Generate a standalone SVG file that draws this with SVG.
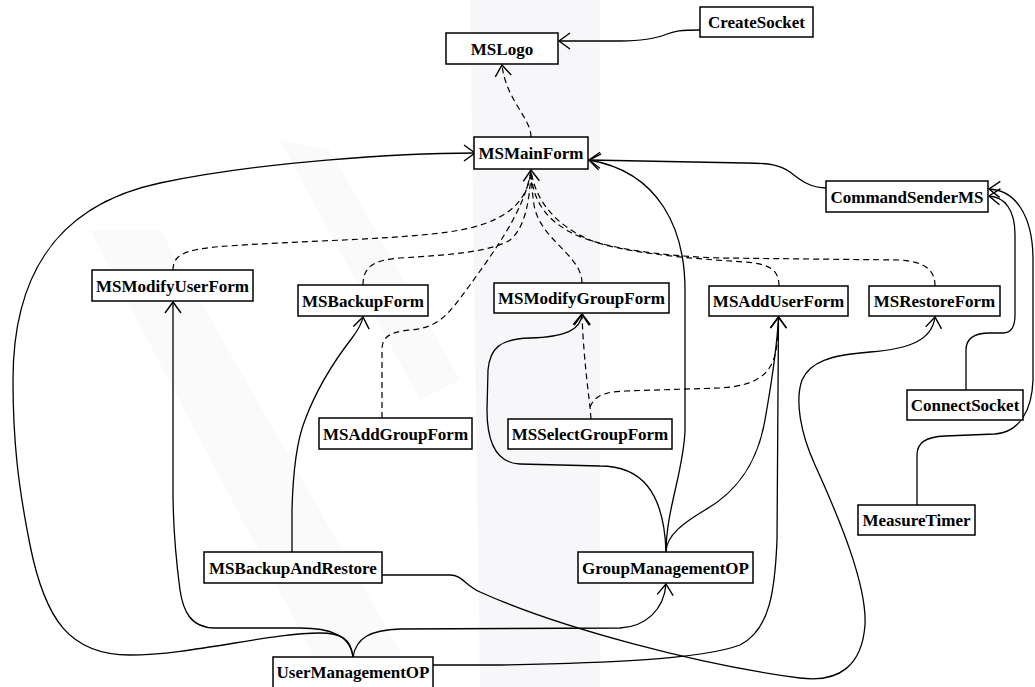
<svg xmlns="http://www.w3.org/2000/svg" width="1035" height="687" viewBox="0 0 1035 687">
<defs>
<style>
.box{fill:#fff;stroke:#000;stroke-width:1.5}
.lbl{font-family:"Liberation Serif","Times New Roman",serif;font-weight:bold;font-size:17px;text-anchor:middle;fill:#000}
.c{fill:none;stroke:#000;stroke-width:1.3}
.d{fill:none;stroke:#000;stroke-width:1.2;stroke-dasharray:6,4}
.wm{fill:#f5f5f7;stroke:none}
</style>
<marker id="arr" markerUnits="userSpaceOnUse" markerWidth="14" markerHeight="18" refX="12" refY="9" orient="auto" viewBox="0 0 14 18">
<path d="M1,1 L12,9 L1,17" fill="none" stroke="#000" stroke-width="1.4"/>
</marker>
</defs>
<rect width="1035" height="687" fill="#fff"/>
<g id="watermark">
<path class="wm" d="M470,0 L600,0 L600,687 L480,687 Z" opacity="0.8"/>
<path class="wm" d="M90,230 L160,230 L420,687 L330,687 Z" opacity="0.5"/>
<path class="wm" d="M280,140 L330,150 L460,380 L420,400 Z" opacity="0.5"/>
</g>
<g id="connectors">
<path class="c" d="M700,30 C680,30 675,31 667,34 C655,39 640,41 620,41 L559,41" marker-end="url(#arr)"/>
<path class="d" d="M531,137 C531,118 506,100 502,65" marker-end="url(#arr)"/>
<path class="d" d="M173,270 C173,255 185,250 215,247 C300,240 420,240 470,228 C510,218 528,200 531,170"/>
<path class="d" d="M363,285 C363,268 372,260 400,258 C450,255 490,252 510,240 C525,228 530,200 531,170"/>
<path class="d" d="M382,418 L382,350 C382,338 388,332 410,330 C440,328 450,312 470,285 C495,250 525,210 531,170"/>
<path class="d" d="M582,283 C582,255 540,240 534,205 C532,190 531,180 531,170"/>
<path class="d" d="M779,286 C779,270 770,264 745,262 C680,258 620,252 590,240 C555,225 535,200 531,170"/>
<path class="d" d="M935,286 C935,272 928,262 900,260 L720,258 C660,256 600,248 570,232 C545,218 532,200 531,170" marker-end="url(#arr)"/>
<path class="d" d="M591,419 L590,407 C588,390 583,350 582,314" marker-end="url(#arr)"/>
<path class="d" d="M590,407 C595,395 605,392 625,391 L720,388 C755,386 772,375 776,350 C778,340 778.5,330 778.5,317" marker-end="url(#arr)"/>
<path class="c" d="M353,657 C351,638 340,633 320,633 C270,633 190,655 130,655 C70,655 45,620 30,545 C18,485 13,440 13,380 C13,250 80,200 160,183 C260,162 400,153 475,153" marker-end="url(#arr)"/>
<path class="c" d="M353,657 C350,635 330,628 300,628 L215,628 C190,628 183,610 180,590 C176,560 173,520 173,490 L173,302" marker-end="url(#arr)"/>
<path class="c" d="M353,657 C356,638 370,630 400,629 L620,628 C645,627 664,610 666,584" marker-end="url(#arr)"/>
<path class="c" d="M433,665 L500,665 C600,663 700,660 740,645 C770,630 775,590 777,540 L778.5,317" marker-end="url(#arr)"/>
<path class="c" d="M666,552 C666,535 685,522 705,510 C740,490 758,460 765,420 C770,390 776,360 778.5,318"/>
<path class="c" d="M666,552 C666,510 684,470 685,430 L685,290 C685,230 660,172 589,160" marker-end="url(#arr)"/>
<path class="c" d="M666,552 C664,490 640,466 600,466 L520,464 C495,463 487,440 487,410 L488,370 C490,348 500,339 530,338 C565,337 581,330 582,314" marker-end="url(#arr)"/>
<path class="c" d="M827,188 C810,188 800,180 790,172 C780,165 770,163 745,163 L589,160" marker-end="url(#arr)"/>
<path class="c" d="M966,390 L966,350 C966,338 975,333 990,333 L1003,333 C1012,333 1015,325 1015,315 L1015,235 C1015,210 1005,197 989,196" marker-end="url(#arr)"/>
<path class="c" d="M917,505 L917,455 C917,443 925,437 945,436 L995,434 C1020,432 1032,410 1033,380 L1033,260 C1033,215 1015,190 989,189" marker-end="url(#arr)"/>
<path class="c" d="M292,552 L292,510 C293,470 297,440 305,420 C318,385 335,360 352,338 C358,330 362,323 363,317" marker-end="url(#arr)"/>
<path class="c" d="M382,575 L450,575 C462,575 465,585 480,592 C560,628 700,665 800,678 C840,683 862,665 865,625 C867,585 840,520 815,465 C800,432 795,400 802,380 C810,362 830,355 870,352 C910,349 932,340 935,317" marker-end="url(#arr)"/>
</g>
<g id="CreateSocket"><rect class="box" x="700" y="7" width="113" height="30"/><text class="lbl" x="756.5" y="28">CreateSocket</text></g>
<g id="MSLogo"><rect class="box" x="446" y="33" width="112" height="31"/><text class="lbl" x="502" y="54.5">MSLogo</text></g>
<g id="MSMainForm"><rect class="box" x="474" y="137" width="114" height="32"/><text class="lbl" x="531" y="159">MSMainForm</text></g>
<g id="CommandSenderMS"><rect class="box" x="826" y="181" width="162" height="31"/><text class="lbl" x="907" y="202.5">CommandSenderMS</text></g>
<g id="MSModifyUserForm"><rect class="box" x="92" y="270" width="161" height="31"/><text class="lbl" x="172.5" y="291.5">MSModifyUserForm</text></g>
<g id="MSBackupForm"><rect class="box" x="298" y="285" width="130" height="31"/><text class="lbl" x="363" y="306.5">MSBackupForm</text></g>
<g id="MSModifyGroupForm"><rect class="box" x="494" y="283" width="175" height="30"/><text class="lbl" x="581.5" y="304">MSModifyGroupForm</text></g>
<g id="MSAddUserForm"><rect class="box" x="709" y="286" width="139" height="30"/><text class="lbl" x="778.5" y="307">MSAddUserForm</text></g>
<g id="MSRestoreForm"><rect class="box" x="869" y="286" width="131" height="30"/><text class="lbl" x="934.5" y="307">MSRestoreForm</text></g>
<g id="ConnectSocket"><rect class="box" x="907" y="390" width="116" height="30"/><text class="lbl" x="965" y="411">ConnectSocket</text></g>
<g id="MSAddGroupForm"><rect class="box" x="319" y="418" width="153" height="31"/><text class="lbl" x="395.5" y="439.5">MSAddGroupForm</text></g>
<g id="MSSelectGroupForm"><rect class="box" x="508" y="419" width="164" height="30"/><text class="lbl" x="590" y="440">MSSelectGroupForm</text></g>
<g id="MeasureTimer"><rect class="box" x="858" y="505" width="117" height="30"/><text class="lbl" x="916.5" y="526">MeasureTimer</text></g>
<g id="MSBackupAndRestore"><rect class="box" x="204" y="552" width="178" height="31"/><text class="lbl" x="293" y="573.5">MSBackupAndRestore</text></g>
<g id="GroupManagementOP"><rect class="box" x="578" y="552" width="175" height="31"/><text class="lbl" x="665.5" y="573.5">GroupManagementOP</text></g>
<g id="UserManagementOP"><rect class="box" x="273" y="657" width="160" height="31"/><text class="lbl" x="353" y="678">UserManagementOP</text></g>
</svg>
